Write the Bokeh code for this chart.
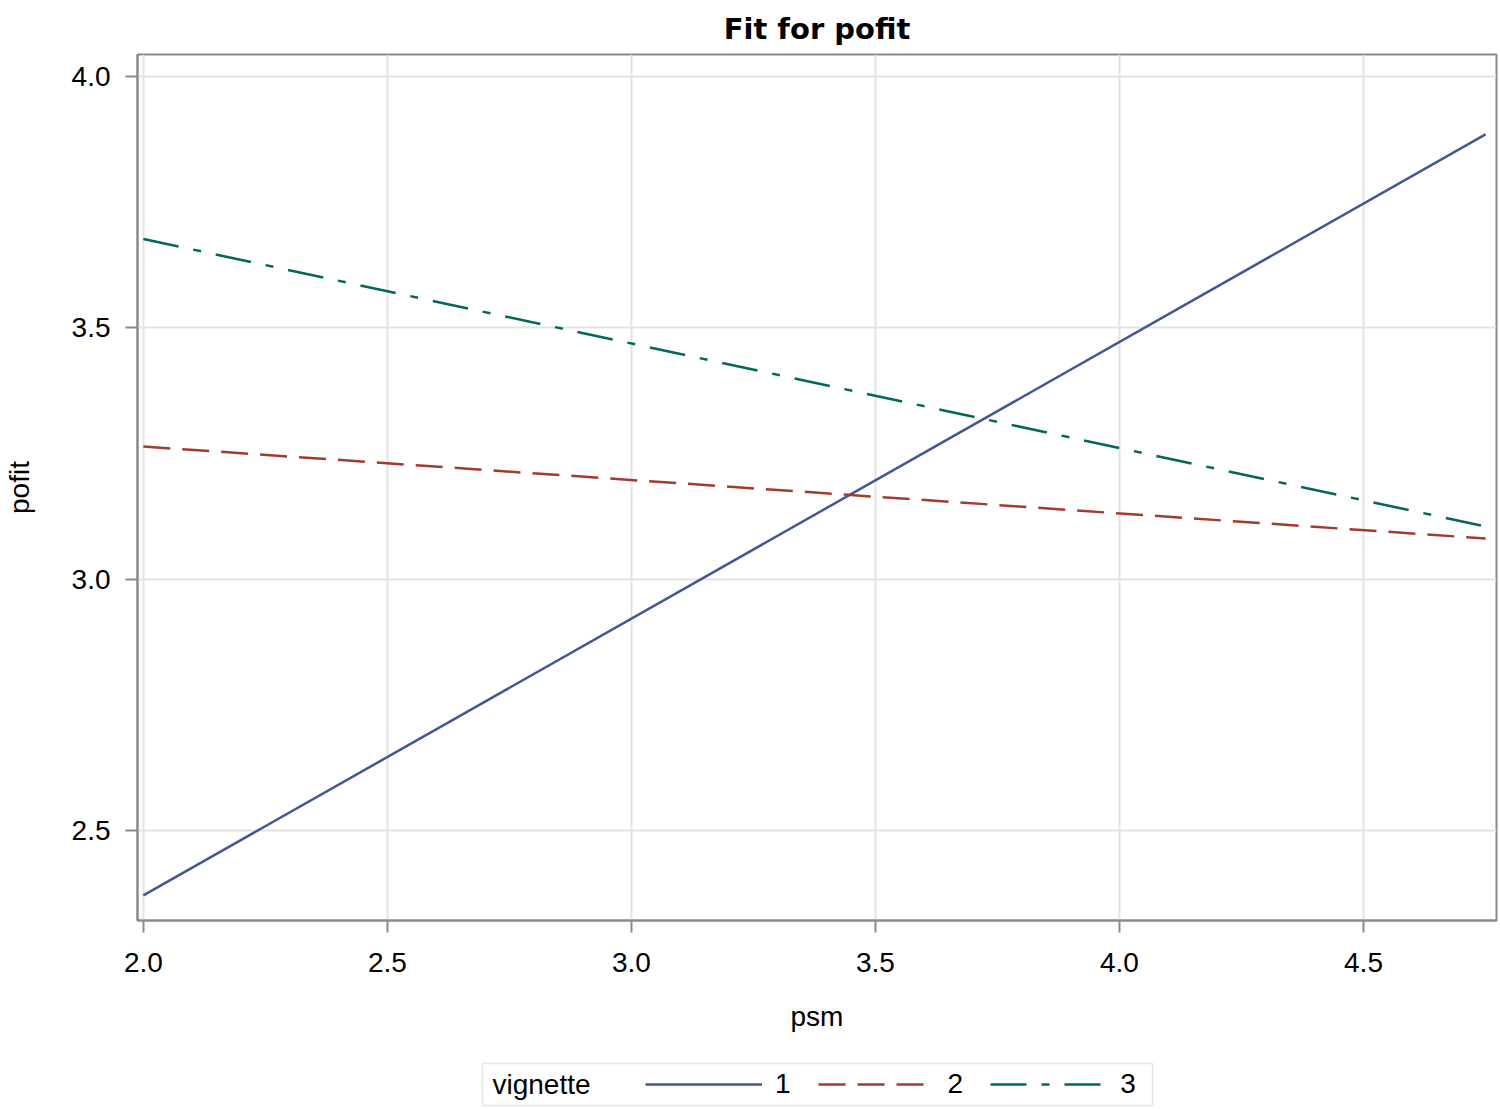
from bokeh.plotting import figure
from bokeh.models import (Legend, LegendItem, Range1d, FixedTicker, PrintfTickFormatter,
                          Label, BoxAnnotation)
from bokeh.layouts import column
from bokeh.embed import file_html
from bokeh.resources import INLINE

# ---- data ----
psm = [2.0, 4.75]
vignette_labels = ["1", "2", "3"]
fit_v1 = [2.371, 3.885]
fit_v2 = [3.264, 3.081]
fit_v3 = [3.677, 3.105]
x_ticks = [2.0, 2.5, 3.0, 3.5, 4.0, 4.5]
y_ticks = [2.5, 3.0, 3.5, 4.0]
legend_title = "vignette"

colors = ["#445694", "#A23A2E", "#01665E"]
dashes = ["solid", "27 12", "36 15 8 15"]

FONT = "Liberation Sans"
W = 1500
H_MAIN = 1050
H_LEG = 59
BL, BR = 137, 4

p = figure(width=W, height=H_MAIN, output_backend="svg", toolbar_location=None,
           x_range=Range1d(1.988, 4.7725), y_range=Range1d(2.321, 4.044),
           min_border_left=BL, min_border_right=BR, min_border_top=52,
           min_border_bottom=130, title="Fit for pofit")

p.title.text_font = "DejaVu Sans"
p.title.text_font_style = "bold"
p.title.text_font_size = "29px"
p.title.align = "center"
p.title.text_color = "#000000"
p.title.standoff = 18
p.title.offset = 0

p.outline_line_color = "#8a8a8a"
p.outline_line_width = 2
p.background_fill_color = "white"
p.border_fill_color = "white"

p.xaxis.ticker = FixedTicker(ticks=x_ticks)
p.yaxis.ticker = FixedTicker(ticks=y_ticks)
p.xaxis.formatter = PrintfTickFormatter(format="%.1f")
p.yaxis.formatter = PrintfTickFormatter(format="%.1f")
p.xaxis.axis_label = "psm"
p.yaxis.axis_label = "pofit"
for ax in (p.xaxis, p.yaxis):
    ax.axis_line_color = "#8a8a8a"
    ax.axis_line_width = 2
    ax.major_tick_line_color = "#8a8a8a"
    ax.major_tick_line_width = 2
    ax.major_tick_out = 12
    ax.major_tick_in = 0
    ax.minor_tick_line_color = None
    ax.major_label_text_font = FONT
    ax.major_label_text_font_size = "28px"
    ax.major_label_text_color = "#000000"
    ax.axis_label_text_font = FONT
    ax.axis_label_text_font_size = "28px"
    ax.axis_label_text_font_style = "normal"
    ax.axis_label_text_color = "#000000"
p.xaxis.major_label_standoff = 20
p.xaxis.axis_label_standoff = 26
p.yaxis.major_label_standoff = 15
p.yaxis.axis_label_standoff = 34

p.xgrid.ticker = FixedTicker(ticks=x_ticks)
p.ygrid.ticker = FixedTicker(ticks=y_ticks)
p.grid.grid_line_color = "#e3e3e3"
p.grid.grid_line_width = 2

fits = [fit_v1, fit_v2, fit_v3]
for ys, c, d in zip(fits, colors, dashes):
    p.line(psm, ys, line_color=c, line_width=2.5, line_dash=d)

# ---- legend strip below the plot (its frame is aligned with the main frame;
#      its x range is in page pixels so the box can be placed exactly) ----
q = figure(width=W, height=H_LEG, output_backend="svg", toolbar_location=None,
           x_range=Range1d(BL, W - BR), y_range=Range1d(0, H_LEG),
           min_border_left=BL, min_border_right=BR, min_border_top=0, min_border_bottom=0)
q.axis.visible = False
q.grid.visible = False
q.outline_line_color = None
q.background_fill_color = "white"
q.border_fill_color = "white"

box = BoxAnnotation(left=482, right=1152, bottom=4, top=46,
                    fill_color="white", fill_alpha=1.0,
                    line_color="#a8a8a8", line_width=1.5)
q.add_layout(box)
q.add_layout(Label(x=492, y=25, text=legend_title, text_font=FONT, text_font_size="28px",
                   text_color="#000000", text_baseline="middle", text_align="left"))

# legend keys: the same fitted lines (they fall outside this strip's x range)
keys = []
for ys, c, d in zip(fits, colors, dashes):
    keys.append(q.line(psm, ys, line_color=c, line_width=2.5, line_dash=d))

legend = Legend(items=[LegendItem(label=lab, renderers=[r]) for lab, r in zip(vignette_labels, keys)],
                orientation="horizontal", location=(645 - BL, 9))
legend.label_text_font = FONT
legend.label_text_font_size = "28px"
legend.label_text_color = "#000000"
legend.glyph_width = 117
legend.glyph_height = 20
legend.label_width = 0
legend.label_height = 20
legend.label_standoff = 13
legend.spacing = 27
legend.padding = 0
legend.margin = 0
legend.border_line_color = None
legend.background_fill_alpha = 0
q.add_layout(legend, "center")

layout = column(p, q, spacing=0)
open("out.html", "w").write(file_html(layout, INLINE))
